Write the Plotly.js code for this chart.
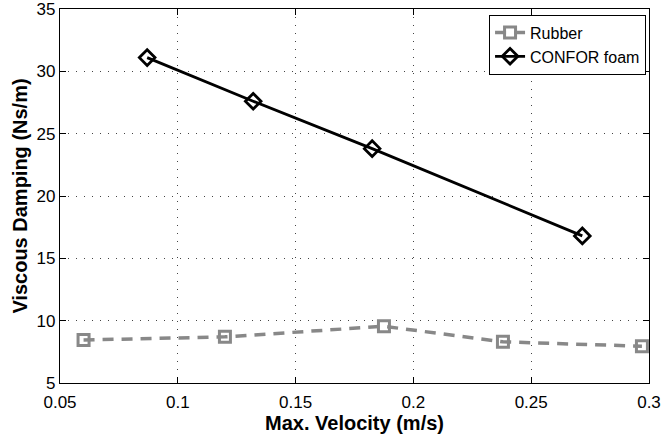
<!DOCTYPE html>
<html><head><meta charset="utf-8">
<script src="https://cdn.plot.ly/plotly-3.0.1.min.js"></script>
<style>html,body{margin:0;padding:0;background:#fff}</style>
</head><body>
<div id="chart" style="width:663px;height:439px"></div>
<script>
const rubberX = [0.060, 0.120, 0.1875, 0.238, 0.297];
const rubberY = [8.45, 8.7, 9.55, 8.3, 7.95];
const conforX = [0.087, 0.132, 0.1825, 0.2717];
const conforY = [31.1, 27.6, 23.8, 16.8];
const xTicks = [0.05, 0.1, 0.15, 0.2, 0.25, 0.3];
const xTickLabels = ['0.05', '0.1', '0.15', '0.2', '0.25', '0.3'];
const yTicks = [5, 10, 15, 20, 25, 30, 35];

const FONT = 'Liberation Sans, Arial, Helvetica, sans-serif';

const traces = [
  {x: rubberX, y: rubberY, name: 'Rubber', mode: 'lines+markers',
   line: {color: '#888888', width: 3.5, dash: '11px,8px'},
   marker: {symbol: 'square-open', size: 11, color: '#888888', line: {width: 3, color: '#888888'}}},
  {x: conforX, y: conforY, name: 'CONFOR foam', mode: 'lines+markers',
   line: {color: '#000000', width: 2.8},
   marker: {symbol: 'diamond-open', size: 12, color: '#000000', line: {width: 2.8, color: '#000000'}}}
];

const axisCommon = {
  showline: true, linecolor: '#000', linewidth: 1.2, mirror: 'ticks',
  ticks: 'inside', ticklen: 6, tickcolor: '#000',
  showgrid: true, gridcolor: '#444', griddash: '1px,7px', gridwidth: 1,
  zeroline: false, ticklabeloverflow: 'allow',
  tickfont: {family: FONT, size: 17, color: '#000'}
};

const layout = {
  width: 663, height: 439,
  margin: {l: 60, r: 14, t: 9, b: 56},
  paper_bgcolor: '#fff', plot_bgcolor: '#fff',
  font: {family: FONT, color: '#000'},
  xaxis: Object.assign({}, axisCommon, {
    range: [0.05, 0.3], tickvals: xTicks, ticktext: xTickLabels,
    ticklabelstandoff: 3,
    title: {text: '<b>Max. Velocity (m/s)</b>', font: {size: 20, family: FONT}, standoff: 0}
  }),
  yaxis: Object.assign({}, axisCommon, {
    range: [5, 35], tickvals: yTicks,
    title: {text: '<b>Viscous Damping (Ns/m)</b>', font: {size: 20, family: FONT}, standoff: 3}
  }),
  legend: {
    x: 0.995, y: 0.985, xanchor: 'right', yanchor: 'top',
    bordercolor: '#000', borderwidth: 1, bgcolor: '#fff',
    font: {size: 16, family: FONT},
    tracegroupgap: 0
  },
  showlegend: true
};

Plotly.newPlot('chart', traces, layout, {displayModeBar: false, staticPlot: true});
</script>
</body></html>
